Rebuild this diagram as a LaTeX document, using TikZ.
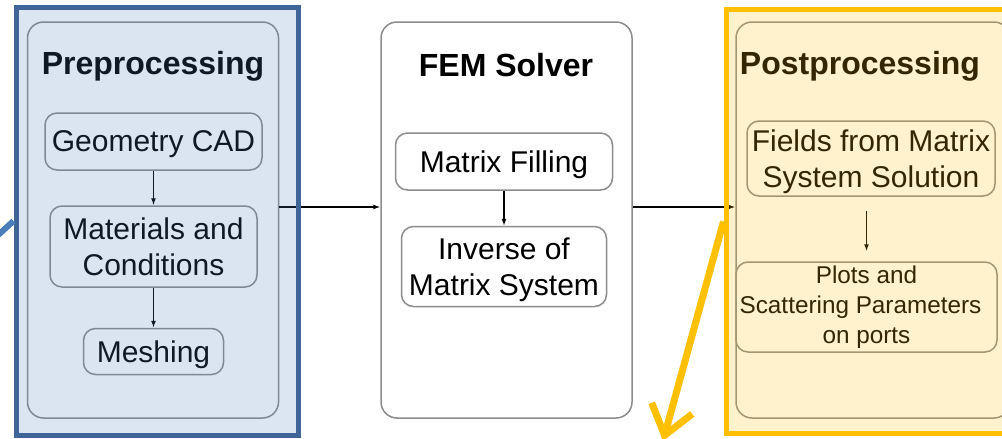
\documentclass[tikz,border=0pt]{standalone}
\usepackage{fontspec}
\setmainfont{Liberation Sans}
\usetikzlibrary{positioning,arrows.meta}
\definecolor{boxgray}{HTML}{8C8C8C}
\definecolor{preblue}{HTML}{4F81BD}
\definecolor{frameblue}{HTML}{3F6497}
\definecolor{lineblue}{HTML}{4A7EBB}
\definecolor{postgold}{HTML}{FFC000}

\begin{document}
\begin{tikzpicture}[x=1pt, y=-1pt, node distance=105pt, >={Latex[length=7pt,width=5pt]},
    main/.style = {draw=boxgray, line width=1.5pt, rounded corners=12pt, fill=white, align=center, inner sep=0pt, text depth=0pt, font=\fontsize{30}{36}\selectfont},
    stage/.style = {main, rounded corners=16pt, minimum width=251pt, minimum height=396pt},
    head/.style = {text depth=0pt, font=\fontsize{32}{38}\selectfont\bfseries},
    flow/.style = {->, line width=1.3pt},
    cover/.style = {line width=5pt, fill opacity=0.2}]
      \useasboundingbox (0,0) rectangle (1002,439);
      \clip (0,0) rectangle (1002,439);

      % preprocessing
      \node[stage] (1) at (153,220) {};
      \node[head] (2) at (153,63) {Preprocessing};
      \node[main, minimum width=217pt, minimum height=57pt] (3) at (153.5,141.5) {Geometry CAD};
      \node[main, minimum width=207pt, minimum height=81pt] (4) [below of=3] {Materials and\\Conditions};
      \node[main, minimum width=140pt, minimum height=46pt] (5) [below of=4] {Meshing};

      % solver
      \node[stage] (6) at (506.5,220) {};
      \node[head] (7) at (506,65) {FEM Solver};
      \node[main, minimum width=217pt, minimum height=57pt] (8) at (504,161.5) {Matrix Filling};
      \node[main, minimum width=205pt, minimum height=80pt] (9) [below of=8] {Inverse of\\Matrix System};

      % postprocessing
      \node[stage, minimum width=274pt] (10) at (873,220) {};
      \node[head] (11) at (860,63) {Postprocessing};
      \node[main, minimum width=248pt, minimum height=75pt] (12) at (871,158.5) {Fields from Matrix\\System Solution};
      \node[main, minimum width=261pt, minimum height=90pt, text depth={}, font=\fontsize{24.3}{30}\selectfont] (13) at (866.5,307) {Plots and\\Scattering Parameters\rule{12pt}{0pt}\\on ports};

      \coordinate (m) at (0,207);
      \draw[flow] (1.east |- m) -- (6.west |- m);
      \draw[flow] (6.east |- m) -- (10.west |- m);
      \draw[flow] (3) -- (4);
      \draw[flow] (4) -- (5);
      \draw[flow] (8) -- (9);
      \draw[flow, shorten <=14pt, shorten >=10pt] (12.south -| 13) -- (13.north);

      % highlight frames
      \node[cover, draw=frameblue, fill=preblue, minimum width=282pt, minimum height=428pt] (14) at (157,221) {};
      \node[cover, draw=postgold, fill=postgold, minimum width=300pt, minimum height=424pt] (15) at (876,221.5) {};

      \coordinate (16) at (-40,270);
      \coordinate (17) at (663,441);
      \draw[lineblue, line width=6pt] (16) -- (14.west);
      \draw[postgold, line width=7pt, -{Straight Barb[length=28pt,width=42pt]}] (15.west) -- (17);
    \end{tikzpicture}
\end{document}
